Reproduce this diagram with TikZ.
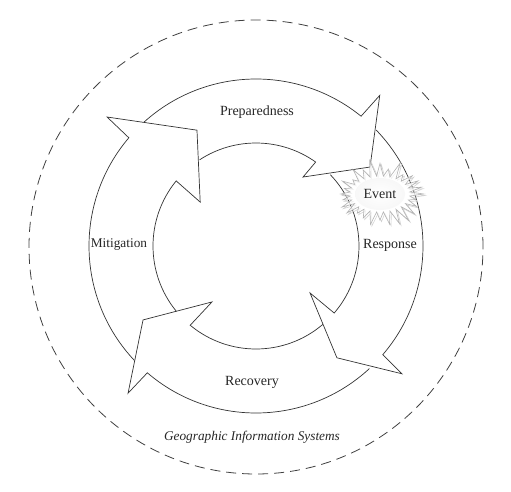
\documentclass[tikz,border=0pt]{standalone}
\usepackage{fontspec}
\setmainfont{Liberation Serif}
\usepackage{tikz}
\usetikzlibrary{shapes.symbols}

\begin{document}
\begin{tikzpicture}[
  x=1pt,y=1pt,
  ring/.style={draw=black!80,line width=0.7pt,line join=miter},
  lbl/.style={font=\fontsize{14}{16}\selectfont,text=black!85},
  burst/.style={starburst,starburst points=28,starburst point height=17pt,
    random starburst=11,minimum width=94pt,minimum height=70pt,
    line width=0.6pt,inner sep=0pt}
]
\useasboundingbox (-256,-245) rectangle (255,246);
% GIS boundary
\draw[black!75,line width=0.8pt,dash pattern=on 10pt off 6pt] (0,-1) circle (227);

% the four phases, each tail hidden under the head before it
\draw[ring] (132.1:167) arc[start angle=132.1,end angle=51,radius=167]
  -- (50.6:195) -- (34.7:138.7) -- (55.7:83.5) -- (54.6:103)
  arc[start angle=54.6,end angle=123.2,radius=103];
\draw[ring] (44:167) arc[start angle=44,end angle=-40.6,radius=167]
  -- (-41.2:194) -- (-54.1:138) -- (-41:71.6) -- (-40.6:103)
  arc[start angle=-40.6,end angle=43.8,radius=103];
\draw[ring] (-47.2:167) arc[start angle=-47.2,end angle=-130.6,radius=167]
  -- (-131:195) -- (-146.8:135) -- (-128.2:71.2) -- (-129.7:103)
  arc[start angle=-129.7,end angle=-49.6,radius=103];
\draw[ring] (223.3:167) arc[start angle=223.3,end angle=139.6,radius=167]
  -- (139.1:197) -- (117:130) -- (141.8:71) -- (140.8:103)
  arc[start angle=140.8,end angle=219.4,radius=103];

\node[lbl] (prep) at (1,134) {Preparedness};
\node[lbl] (resp) at (134,1) {Response};
\node[lbl] (rec) at (-4,-136) {Recovery};
\node[lbl,font=\fontsize{13.3}{16}\selectfont] (mitig) at (-137,1) {Mitigation};
\node[lbl,font=\fontsize{13.3}{16}\selectfont\itshape] (gis) at (-4,-191) {Geographic Information Systems};

% the event
\node[burst,draw=gray!35] (shadow) at (125.5,50.5) {};
\node[burst,draw=gray!60,fill=white,fill opacity=0.7] (burst) at (124,52) {};
\shade[inner color=white,outer color=white!94!gray] (124,52) ellipse (25 and 16);
\node[lbl] (event) at (124,52) {Event};
\end{tikzpicture}
\end{document}
